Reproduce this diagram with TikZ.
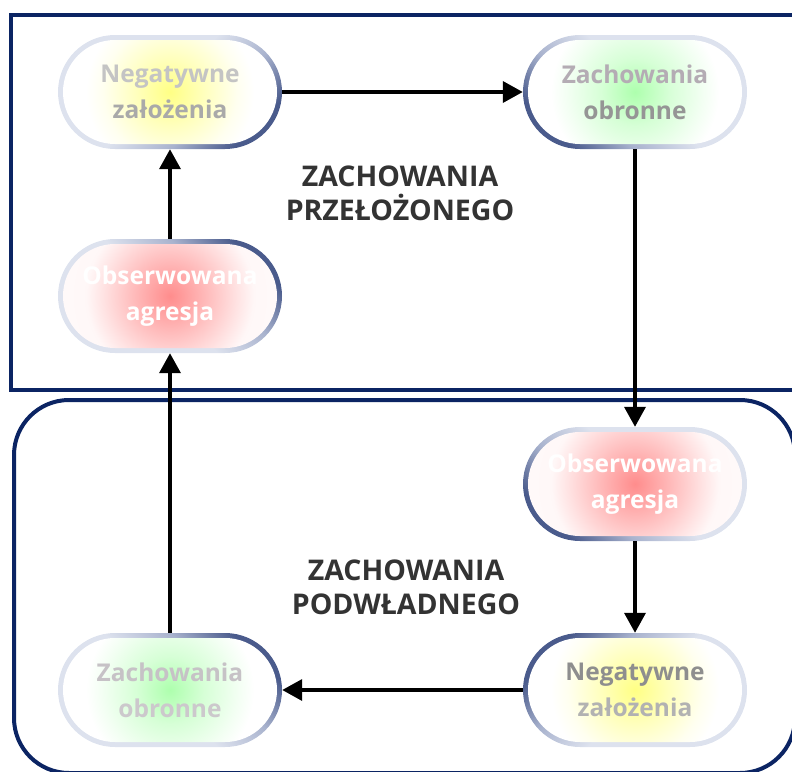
\documentclass[tikz,border=0pt]{standalone}
\usepackage{fontspec}
\setmainfont{Open Sans}
\usetikzlibrary{shapes.misc,arrows.meta}

\definecolor{framecol}{HTML}{0B2463}
\definecolor{ringlight}{HTML}{DDE2EE}
\definecolor{ringmid}{HTML}{A9B3CE}
\definecolor{ringdark}{HTML}{4A5B8C}
\definecolor{labelcol}{HTML}{333333}

% soft coloured glows for the stage fills
\pgfdeclareradialshading{yelglow}{\pgfpoint{0bp}{0bp}}{color(0bp)=(yellow!48); color(10bp)=(yellow!26); color(20bp)=(yellow!6); color(25bp)=(white); color(50bp)=(white)}
\pgfdeclareradialshading{greenglow}{\pgfpoint{0bp}{0bp}}{color(0bp)=(green!32!white); color(10bp)=(green!16!white); color(20bp)=(green!5!white); color(25bp)=(white); color(50bp)=(white)}
\pgfdeclareradialshading{redglow}{\pgfpoint{0bp}{0bp}}{color(0bp)=(red!45!white); color(10bp)=(red!28!white); color(20bp)=(red!11!white); color(25bp)=(red!3!white); color(50bp)=(white)}
% rim: dark on one side, light elsewhere
\pgfdeclareverticalshading{ringshade}{100bp}{color(0bp)=(ringdark); color(25bp)=(ringdark); color(38bp)=(ringmid); color(52bp)=(ringlight); color(100bp)=(ringlight)}

\tikzset{
  stage/.style={rounded rectangle, minimum width=224pt, minimum height=114pt,
    inner sep=0pt, align=center, shade, shading=ringshade,
    font=\bfseries\fontsize{24.5}{36}\selectfont,
    path picture={\shade[shading=#1, rounded corners=52pt]
      ([shift={(5pt,5pt)}]path picture bounding box.south west) rectangle
      ([shift={(-5pt,-5pt)}]path picture bounding box.north east);}},
  flow/.style={line width=3.6pt, draw=black, -{Triangle[length=20pt,width=21pt]}},
  frame/.style={line width=4pt, draw=framecol},
  grouplabel/.style={font=\bfseries\fontsize{28.5}{34}\selectfont, text=labelcol, align=center}
}

\begin{document}
\begin{tikzpicture}[x=1pt,y=-1pt]
\useasboundingbox (0,0) rectangle (792,771);

% group frames
\draw[frame] (11,15) rectangle (806,390);
\draw[frame, rounded corners=55pt] (14,400) rectangle (795,773);

% stages
\node[stage=yelglow, shading angle=45] (tl) at (170,92)
  {\textcolor[HTML]{C4C4C4}{Negatywne}\\\textcolor[HTML]{A9A9A9}{założenia}};
\node[stage=greenglow, shading angle=315] (tr) at (635,92)
  {\textcolor[HTML]{B4ACB4}{Zachowania}\\\textcolor[HTML]{959595}{obronne}};
\node[stage=redglow, shading angle=135] (rl) at (170,296)
  {\textcolor{white}{Obserwowana}\\\textcolor{white}{agresja}};
\node[stage=redglow, shading angle=315] (rr) at (635,484)
  {\textcolor{white}{Obserwowana}\\\textcolor{white}{agresja}};
\node[stage=yelglow, shading angle=225] (br) at (635,690)
  {\textcolor[HTML]{8E8E8E}{Negatywne}\\\textcolor[HTML]{B2B2B2}{założenia}};
\node[stage=greenglow, shading angle=135] (bl) at (170,690)
  {\textcolor[HTML]{C6C2C6}{Zachowania}\\\textcolor[HTML]{CCC8CC}{obronne}};

% group labels
\node[grouplabel] (gtop) at (400,193) {ZACHOWANIA\\PRZEŁOŻONEGO};
\node[grouplabel] (gbot) at (406,587) {ZACHOWANIA\\PODWŁADNEGO};

% cycle
\draw[flow] (tl.east) -- (tr.west);
\draw[flow] (tr.south) -- (rr.north);
\draw[flow] (rr.south) -- (br.north);
\draw[flow] (br.west) -- (bl.east);
\draw[flow] (bl.north) -- (rl.south);
\draw[flow] (rl.north) -- (tl.south);
\end{tikzpicture}
\end{document}
